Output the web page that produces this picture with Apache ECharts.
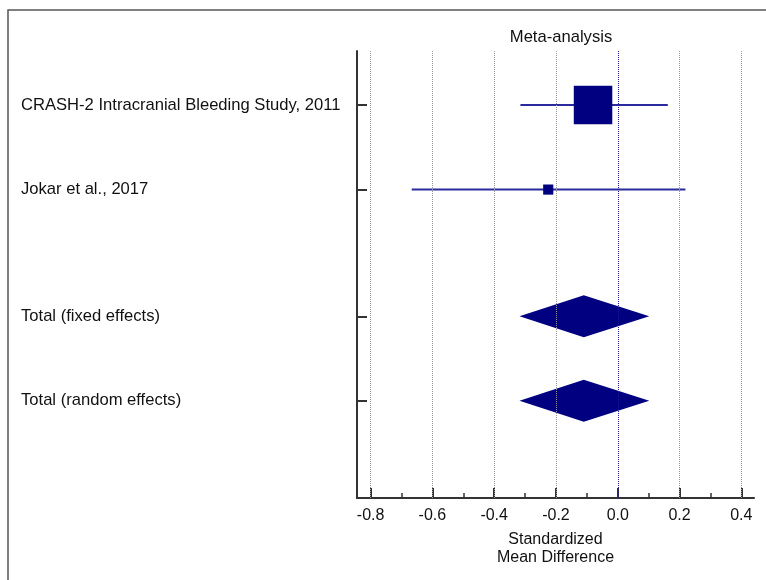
<!DOCTYPE html>
<html>
<head>
<meta charset="utf-8">
<script src="https://cdn.jsdelivr.net/npm/echarts@6/dist/echarts.min.js"></script>
<style>
  html, body { margin: 0; padding: 0; background: #fff; }
  #main { width: 766px; height: 580px; }
</style>
</head>
<body>
<div id="main"></div>
<script>
// studies
const studyNames = ['CRASH-2 Intracranial Bleeding Study, 2011', 'Jokar et al., 2017'];
const studyRows = [1, 2];
const studyEst = [-0.08, -0.225];
const studyLow = [-0.315, -0.667];
const studyHigh = [0.162, 0.219];
const studyWeight = [93.5, 6.5];

// pooled
const totalNames = ['Total (fixed effects)', 'Total (random effects)'];
const totalRows = [3.5, 4.5];
const totalEst = [-0.11, -0.11];
const totalLow = [-0.318, -0.318];
const totalHigh = [0.102, 0.102];

// x axis ticks
const xTicks = [-0.8, -0.6, -0.4, -0.2, 0.0, 0.2, 0.4];
const xMinorTicks = [-0.7, -0.5, -0.3, -0.1, 0.1, 0.3];

const FONT = 'Liberation Sans, Arial, sans-serif';
const rowNames = {};
studyRows.forEach((r, i) => { rowNames[r] = studyNames[i]; });
totalRows.forEach((r, i) => { rowNames[r] = totalNames[i]; });
const allRows = studyRows.concat(totalRows);
const maxWeight = Math.max(...studyWeight);

const studyData = studyRows.map((r, i) => [r, studyEst[i], studyLow[i], studyHigh[i], studyWeight[i]]);
const totalData = totalRows.map((r, i) => [r, totalEst[i], totalLow[i], totalHigh[i]]);

let chart = echarts.init(document.getElementById('main'));

chart.setOption({
  animation: false,
  title: {
    text: 'Meta-analysis',
    left: 556,
    top: 24,
    textAlign: 'center',
    textStyle: { fontFamily: FONT, fontSize: 16.6, fontWeight: 'normal', color: '#111' }
  },
  graphic: [{
    type: 'rect',
    shape: { x: 8, y: 10, width: 900, height: 700 },
    style: { fill: 'none', stroke: '#555', lineWidth: 1.5 },
    silent: true
  }],
  grid: { left: 357, right: 12, top: 51, bottom: 82 },
  xAxis: [{
    type: 'value',
    position: 'bottom',
    min: -0.844,
    max: 0.441,
    name: 'Standardized\nMean Difference',
    nameLocation: 'middle',
    nameGap: 33,
    nameTextStyle: { fontFamily: FONT, fontSize: 16, color: '#111', lineHeight: 18 },
    axisLine: { show: true, onZero: false, lineStyle: { color: '#333', width: 2 } },
    axisTick: { show: true, inside: true, length: 10, customValues: xTicks, lineStyle: { color: '#333', width: 2 } },
    axisLabel: {
      customValues: xTicks,
      margin: 10,
      fontFamily: FONT, fontSize: 16, color: '#111',
      formatter: v => v.toFixed(1)
    },
    splitLine: { show: false }
  }, {
    type: 'value',
    position: 'bottom',
    min: -0.844,
    max: 0.441,
    axisLine: { show: false, onZero: false },
    axisTick: { show: true, inside: true, length: 5, customValues: xMinorTicks, lineStyle: { color: '#333', width: 1.5 } },
    axisLabel: { show: false },
    splitLine: { show: false }
  }],
  yAxis: {
    type: 'value',
    position: 'left',
    inverse: true,
    min: 0.36,
    max: 5.65,
    axisLine: { show: true, onZero: false, lineStyle: { color: '#333', width: 2 } },
    axisTick: { show: true, inside: true, length: 10, customValues: allRows, lineStyle: { color: '#333', width: 2 } },
    axisLabel: {
      customValues: allRows,
      align: 'left',
      margin: 336,
      fontFamily: FONT, fontSize: 16.6, color: '#111',
      formatter: v => rowNames[v] || ''
    },
    splitLine: { show: false }
  },
  series: [{
    // grid lines
    type: 'line',
    data: [],
    silent: true,
    markLine: {
      silent: true,
      symbol: 'none',
      label: { show: false },
      lineStyle: { type: 'dotted', color: '#999', width: 1 },
      data: xTicks.map(v => v === 0
        ? { xAxis: v, lineStyle: { color: '#1a1a9a', type: 'dotted', width: 1 } }
        : { xAxis: v })
    }
  }, {
    // individual studies
    type: 'custom',
    data: studyData,
    encode: { x: [1, 2, 3], y: 0 },
    renderItem: function (params, api) {
      const row = api.value(0);
      const p = api.coord([api.value(1), row]);
      const l = api.coord([api.value(2), row]);
      const h = api.coord([api.value(3), row]);
      const size = 38.5 * Math.sqrt(api.value(4) / maxWeight);
      return {
        type: 'group',
        children: [{
          type: 'line',
          shape: { x1: l[0], y1: l[1], x2: h[0], y2: h[1] },
          style: { stroke: '#2a2a9e', lineWidth: 2 }
        }, {
          type: 'rect',
          shape: { x: p[0] - size / 2, y: p[1] - size / 2, width: size, height: size },
          style: { fill: '#000080' }
        }]
      };
    }
  }, {
    // pooled diamonds
    type: 'custom',
    data: totalData,
    encode: { x: [1, 2, 3], y: 0 },
    renderItem: function (params, api) {
      const row = api.value(0);
      const p = api.coord([api.value(1), row]);
      const l = api.coord([api.value(2), row]);
      const h = api.coord([api.value(3), row]);
      const half = 21;
      return {
        type: 'polygon',
        shape: { points: [[l[0], l[1]], [p[0], p[1] - half], [h[0], h[1]], [p[0], p[1] + half]] },
        style: { fill: '#000080' }
      };
    }
  }]
});
</script>
</body>
</html>
